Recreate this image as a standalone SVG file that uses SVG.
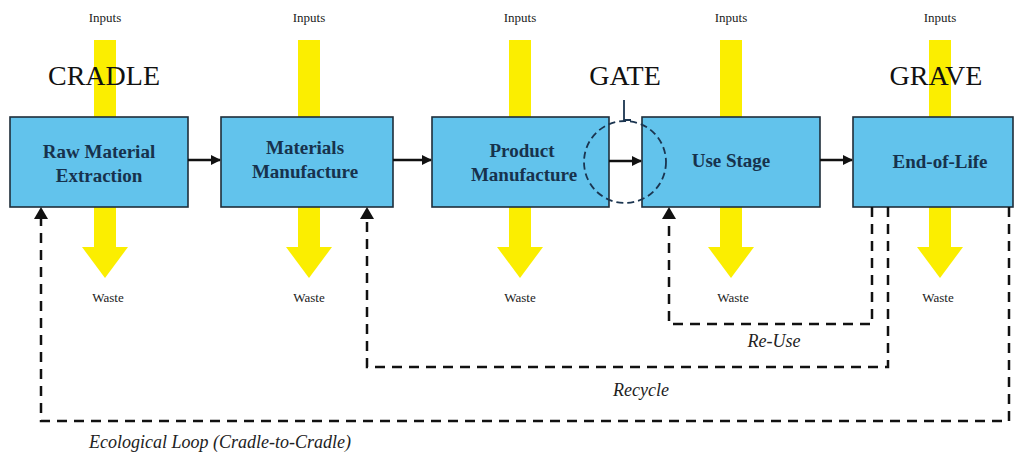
<svg xmlns="http://www.w3.org/2000/svg" width="1016" height="455" viewBox="0 0 1016 455">
<defs>
<style>
.box{fill:#62c3ec;stroke:#1e2d3a;stroke-width:1.6}
.lbl{font-family:"Liberation Serif",serif;font-weight:bold;font-size:19px;fill:#17324d;text-anchor:middle}
.small{font-family:"Liberation Serif",serif;font-size:13px;fill:#222;text-anchor:middle}
.stage{font-family:"Liberation Serif",serif;font-size:28px;fill:#111;text-anchor:middle}
.loop{font-family:"Liberation Serif",serif;font-style:italic;font-size:18px;fill:#222;text-anchor:middle}
.bar{fill:#fbee00}
.flow{stroke:#111;stroke-width:2.5;fill:none}
.dash{stroke:#111;stroke-width:2.5;fill:none;stroke-dasharray:10 7}
</style>
<marker id="ah" viewBox="0 0 10 10" refX="9" refY="5" markerWidth="4" markerHeight="4" orient="auto" markerUnits="strokeWidth">
<path d="M0,0 L10,5 L0,10 Z" fill="#111"/>
</marker>
</defs>
<rect width="1016" height="455" fill="#fff"/>
<g id="flows-yellow">
<g id="bar1"><rect class="bar" x="94" y="40" width="22" height="208"/><polygon class="bar" points="82,247 128,247 105,278"/></g>
<g id="bar2"><rect class="bar" x="298" y="40" width="22" height="208"/><polygon class="bar" points="286,247 332,247 309,278"/></g>
<g id="bar3"><rect class="bar" x="509" y="40" width="22" height="208"/><polygon class="bar" points="497,247 543,247 520,278"/></g>
<g id="bar4"><rect class="bar" x="720" y="40" width="22" height="208"/><polygon class="bar" points="708,247 754,247 731,278"/></g>
<g id="bar5"><rect class="bar" x="929" y="40" width="22" height="208"/><polygon class="bar" points="917,247 963,247 940,278"/></g>
</g>
<g id="io-labels">
<text class="small" x="105" y="22">Inputs</text>
<text class="small" x="309" y="22">Inputs</text>
<text class="small" x="520" y="22">Inputs</text>
<text class="small" x="731" y="22">Inputs</text>
<text class="small" x="940" y="22">Inputs</text>
<text class="small" x="108" y="302">Waste</text>
<text class="small" x="309" y="302">Waste</text>
<text class="small" x="520" y="302">Waste</text>
<text class="small" x="733" y="302">Waste</text>
<text class="small" x="938" y="302">Waste</text>
</g>
<g id="stages">
<text class="stage" x="104" y="85">CRADLE</text>
<text class="stage" x="625" y="85">GATE</text>
<text class="stage" x="936" y="85">GRAVE</text>
</g>
<g id="raw-material">
<rect class="box" x="10" y="117" width="178" height="90"/>
<text class="lbl" x="99" y="158">Raw Material</text>
<text class="lbl" x="99" y="182">Extraction</text>
</g>
<g id="materials-manufacture">
<rect class="box" x="221" y="117" width="172" height="90"/>
<text class="lbl" x="305" y="154">Materials</text>
<text class="lbl" x="305" y="178">Manufacture</text>
</g>
<g id="product-manufacture">
<rect class="box" x="432" y="117" width="177" height="90"/>
<text class="lbl" x="522" y="157">Product</text>
<text class="lbl" x="524" y="181">Manufacture</text>
</g>
<g id="use-stage">
<rect class="box" x="642" y="117" width="178" height="90"/>
<text class="lbl" x="731" y="167">Use Stage</text>
</g>
<g id="end-of-life">
<rect class="box" x="853" y="117" width="160" height="90"/>
<text class="lbl" x="940" y="168">End-of-Life</text>
</g>
<g id="gate-marker">
<ellipse cx="625" cy="162" rx="41" ry="41" fill="none" stroke="#1b3550" stroke-width="1.8" stroke-dasharray="7 4"/>
<path d="M624,100 V120 H631" fill="none" stroke="#1b3550" stroke-width="1.8"/>
</g>
<g id="connectors">
<line class="flow" x1="188" y1="160" x2="220" y2="160" marker-end="url(#ah)"/>
<line class="flow" x1="393" y1="160" x2="431" y2="160" marker-end="url(#ah)"/>
<line class="flow" x1="609" y1="161" x2="641" y2="161" marker-end="url(#ah)"/>
<line class="flow" x1="820" y1="160" x2="852" y2="160" marker-end="url(#ah)"/>
<path class="dash" d="M872,207 V324 H669 V217"/>
<path class="dash" d="M888,207 V367 H367 V217"/>
<path class="dash" d="M1009,207 V421 H41 V217"/>
<polygon points="662,219 676,219 669,207" fill="#111"/>
<polygon points="360,219 374,219 367,207" fill="#111"/>
<polygon points="34,219 48,219 41,207" fill="#111"/>
</g>
<g id="loop-labels">
<text class="loop" x="774" y="347">Re-Use</text>
<text class="loop" x="641" y="396">Recycle</text>
<text class="loop" x="220" y="448">Ecological Loop (Cradle-to-Cradle)</text>
</g>
</svg>
